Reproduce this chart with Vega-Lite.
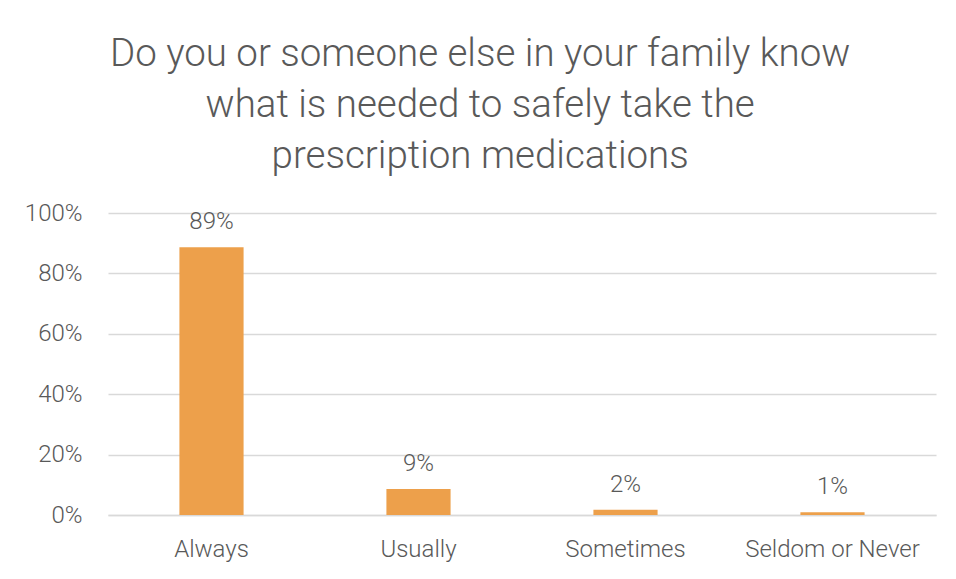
{
  "$schema": "https://vega.github.io/schema/vega-lite/v6.json",
  "width": 828,
  "height": 302,
  "padding": {"left": 24, "right": 16, "top": 34, "bottom": 10},
  "background": "white",
  "title": {
    "text": ["Do you or someone else in your family know", "what is needed to safely take the", "prescription medications"],
    "font": "Roboto",
    "fontWeight": 300,
    "fontSize": 38.5,
    "lineHeight": 51,
    "color": "#595959",
    "anchor": "middle",
    "frame": "bounds",
    "offset": 25
  },
  "data": {
    "values": [
      {"answer": "Always", "share": 0.887},
      {"answer": "Usually", "share": 0.086},
      {"answer": "Sometimes", "share": 0.017},
      {"answer": "Seldom or Never", "share": 0.009}
    ]
  },
  "encoding": {
    "x": {
      "field": "answer",
      "type": "nominal",
      "sort": null,
      "scale": {"paddingInner": 0.69, "paddingOuter": 0.345},
      "axis": {
        "title": null,
        "labelAngle": 0,
        "labelFont": "Roboto",
        "labelFontWeight": 300,
        "labelFontSize": 24,
        "labelColor": "#595959",
        "labelPadding": 22,
        "labelOverlap": false,
        "ticks": false,
        "domain": true,
        "domainColor": "#d9d9d9",
        "domainWidth": 1.5
      }
    },
    "y": {
      "field": "share",
      "type": "quantitative",
      "scale": {"domain": [0, 1]},
      "axis": {
        "title": null,
        "format": ".0%",
        "values": [0, 0.2, 0.4, 0.6, 0.8, 1],
        "labelOverlap": false,
        "labelFont": "Roboto",
        "labelFontWeight": 300,
        "labelFontSize": 24,
        "labelColor": "#595959",
        "labelPadding": 26,
        "ticks": false,
        "domain": false,
        "gridColor": "#d9d9d9",
        "gridWidth": 1.5
      }
    }
  },
  "layer": [
    {"mark": {"type": "bar", "color": "#EDA04B"}},
    {
      "mark": {"type": "text", "baseline": "bottom", "dy": -13, "font": "Roboto", "fontWeight": 300, "fontSize": 24, "color": "#595959"},
      "encoding": {"text": {"field": "share", "type": "quantitative", "format": ".0%"}}
    }
  ],
  "config": {"view": {"stroke": null}}
}
